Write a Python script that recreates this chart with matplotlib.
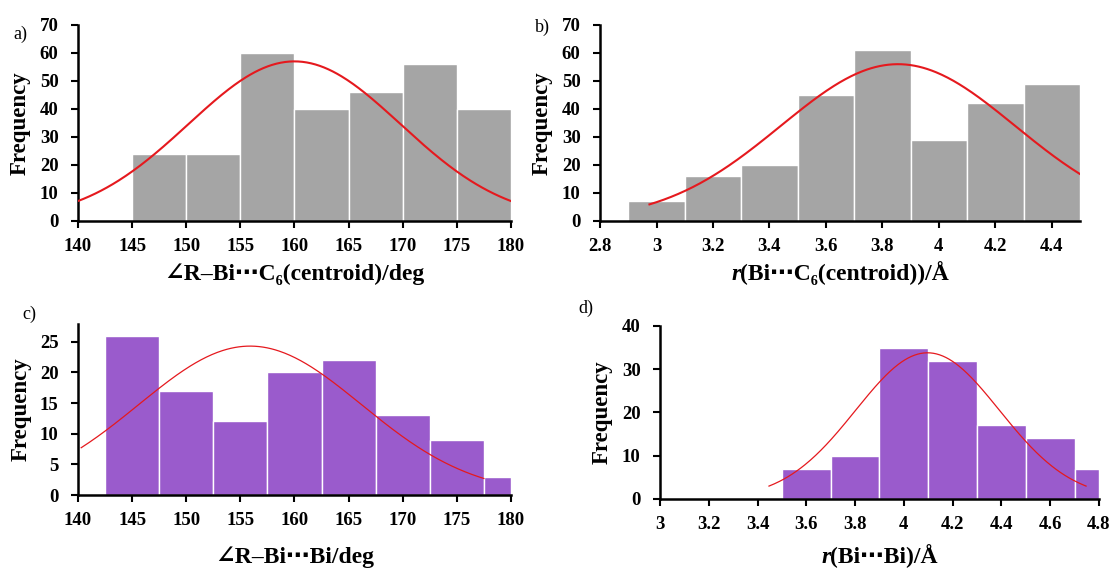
import numpy as np
import matplotlib
matplotlib.use("Agg")
import matplotlib.pyplot as plt

plt.rcParams['font.family'] = ['Liberation Serif', 'DejaVu Serif', 'DejaVu Sans']

# a) angle R-Bi...C6(centroid)
a_edges = [145, 150, 155, 160, 165, 170, 175, 180]
a_counts = [24, 24, 60, 40, 46, 56, 40]
a_fit = dict(mu=160.0, sd=9.8, peak=57.0, lo=140, hi=180)

# b) r(Bi...C6(centroid))
b_edges = [2.9, 3.1, 3.3, 3.5, 3.7, 3.9, 4.1, 4.3, 4.5]
b_counts = [7, 16, 20, 45, 61, 29, 42, 49]
b_fit = dict(mu=3.855, sd=0.415, peak=56.0, lo=2.975, hi=4.5)

# c) angle R-Bi...Bi
c_edges = [142.5, 147.5, 152.5, 157.5, 162.5, 167.5, 172.5, 177.5, 180]
c_counts = [26, 17, 12, 20, 22, 13, 9, 3]
c_fit = dict(mu=155.9, sd=10.3, peak=24.3, lo=140.3, hi=177.5)

# d) r(Bi...Bi)
d_edges = [3.5, 3.7, 3.9, 4.1, 4.3, 4.5, 4.7, 4.8]
d_counts = [7, 10, 35, 32, 17, 14, 7]
d_fit = dict(mu=4.097, sd=0.295, peak=33.8, lo=3.447, hi=4.747)

GRAY = "#a5a5a5"
PURPLE = "#9a5bcc"
RED = "#e5191e"
DOTS = "\u22ef"


def panel(fig, rect, edges, counts, fit, color, lw, xlim, xticks, ylim, yticks,
          ylab_x, tag, tagpos, fmt=None):
    ax = fig.add_axes(rect)
    edges = np.asarray(edges, float)
    ax.bar(edges[:-1], counts, width=np.diff(edges), align="edge", color=color,
           edgecolor="white", linewidth=1.0, zorder=2)
    x = np.linspace(fit["lo"], fit["hi"], 300)
    y = fit["peak"] * np.exp(-(x - fit["mu"]) ** 2 / (2 * fit["sd"] ** 2))
    ax.plot(x, y, color=RED, lw=lw, zorder=3)
    ax.set_xlim(*xlim); ax.set_ylim(*ylim)
    ax.set_xticks(xticks); ax.set_yticks(yticks)
    if fmt:
        ax.set_xticklabels([fmt(t) for t in xticks])
    for s in ("top", "right"):
        ax.spines[s].set_visible(False)
    for s in ("left", "bottom"):
        ax.spines[s].set_linewidth(1.8)
    ax.tick_params(width=1.5, length=5, labelsize=13.5)
    ax.tick_params(axis="x", pad=7)
    ax.tick_params(axis="y", pad=9)
    for lab in ax.get_xticklabels() + ax.get_yticklabels():
        lab.set_fontweight("bold")
    ax.set_ylabel("Frequency", fontsize=16.5, fontweight="bold", va="center")
    ax.yaxis.set_label_coords(ylab_x, 0.5)
    fig.text(tagpos[0], tagpos[1], tag, fontsize=13, ha="left", va="center")
    return ax


def xlabel(fig, ax, base, pieces):
    # label made of pieces (text, style), centred under the axes, on one baseline
    r = fig.canvas.get_renderer()
    ts = [fig.text(0, base, s, fontsize=17, fontweight="bold", style=st, va="baseline")
          for s, st in pieces]
    ws = [t.get_window_extent(r).width for t in ts]
    bb = ax.get_position()
    W = fig.bbox.width
    x = (bb.x0 + bb.x1) / 2 * W - sum(ws) / 2
    for t, w in zip(ts, ws):
        t.set_x(x / W); x += w


def num(t):
    s = f"{t:.1f}"
    return s[:-2] if s.endswith(".0") else s


fig = plt.figure(figsize=(11.12, 5.68), dpi=100)

ax_a = panel(fig, [0.0701, 0.611, 0.3894, 0.345], a_edges, a_counts, a_fit, GRAY, 1.5,
             (140, 180), np.arange(140, 181, 5), (0, 70), np.arange(0, 71, 10),
             -0.134, "a)", (0.0117, 0.940))
ax_b = panel(fig, [0.5396, 0.611, 0.4317, 0.345], b_edges, b_counts, b_fit, GRAY, 1.5,
             (2.8, 4.5), np.arange(2.8, 4.41, 0.2), (0, 70), np.arange(0, 71, 10),
             -0.121, "b)", (0.481, 0.951), fmt=num)
ax_c = panel(fig, [0.0701, 0.1285, 0.3894, 0.301], c_edges, c_counts, c_fit, PURPLE, 0.9,
             (140, 180), np.arange(140, 181, 5), (0, 27.9), np.arange(0, 26, 5),
             -0.132, "c)", (0.02, 0.447))
ax_d = panel(fig, [0.5935, 0.1215, 0.3948, 0.3046], d_edges, d_counts, d_fit, PURPLE, 0.9,
             (3.0, 4.8), np.arange(3.0, 4.81, 0.2), (0, 40), np.arange(0, 41, 10),
             -0.132, "d)", (0.52, 0.458), fmt=num)

xlabel(fig, ax_a, 0.507, [("\u2220R\u2013Bi" + DOTS + "C\u2086(centroid)/deg", "normal")])
xlabel(fig, ax_b, 0.507, [("r", "italic"), ("(Bi" + DOTS + "C\u2086(centroid))/\u00c5", "normal")])
xlabel(fig, ax_c, 0.0088, [("\u2220R\u2013Bi" + DOTS + "Bi/deg", "normal")])
xlabel(fig, ax_d, 0.0088, [("r", "italic"), ("(Bi" + DOTS + "Bi)/\u00c5", "normal")])

fig.savefig("out.png", dpi=100)
